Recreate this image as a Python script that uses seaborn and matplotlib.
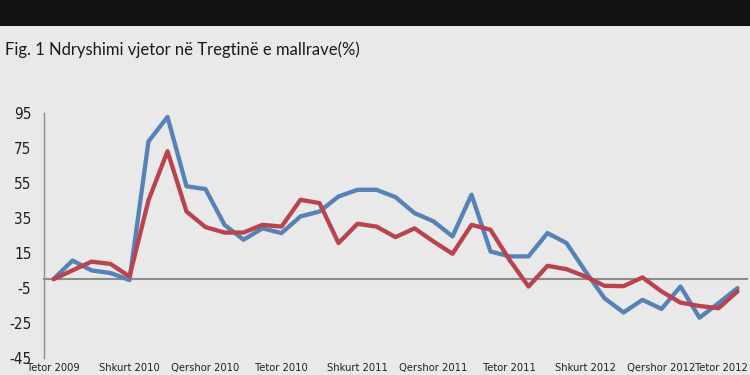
import numpy as np
import pandas as pd
import matplotlib
matplotlib.use("Agg")
import matplotlib.pyplot as plt
import matplotlib.transforms as mtransforms
from matplotlib.patches import Rectangle
import seaborn as sns

# ---- data ----
title = "Fig. 1 Ndryshimi vjetor në Tregtinë e mallrave(%)"
period_index = list(range(37))
blue_series = [0, 10.6, 5, 3.5, -0.5, 78.6, 92.6, 53, 51.4, 31, 22.5,
               29, 26.3, 35.8, 38.6, 47.2, 51, 51, 46.8, 37.7, 33, 24.4,
               48.2, 15.8, 13, 13, 26.3, 20.6, 4.4, -10.9, -19, -11.8,
               -17, -4.2, -22, -13.7, -5.1]
red_series = [0, 5, 10, 8.7, 1.5, 45, 73, 38.6, 29.7, 26.6, 26.6,
              31, 30, 45.3, 43.4, 20.6, 31.6, 30, 24, 29, 21.5, 14.5,
              31, 28.2, 11, -4.2, 7.6, 5.7, 1.5, -3.8, -4, 1,
              -7, -13.4, -15.3, -16.6, -7]
label_positions = [0, 4, 8, 12, 16, 20, 24, 28, 32, 36]
x_labels = ["Tetor 2009", "Shkurt 2010", "Qershor 2010", "Tetor 2010",
            "Shkurt 2011", "Qershor 2011", "Tetor 2011", "Shkurt 2012",
            "Qershor 2012", "Tetor 2012"]
y_ticks = [-45, -25, -5, 15, 35, 55, 75, 95]

BG = "#e9e9e9"
BLUE = "#5683b6"
RED = "#b9444f"
AXCOL = "#8c8c8c"

sns.set_style("white", rc={"axes.facecolor": BG, "figure.facecolor": BG})
plt.rcParams["font.family"] = ["DejaVu Sans"]

W, H = 750, 375
fig = plt.figure(figsize=(7.5, 3.75), dpi=100, facecolor=BG)

# black band at top
fig.patches.append(Rectangle((0, 1 - 26 / H), 1, 26 / H, transform=fig.transFigure,
                             facecolor="#111111", edgecolor="none", zorder=0))

fig.text(5 / W, 1 - 50 / H, title, fontsize=12, color="#1a1a1a",
         family=["Lato", "DejaVu Sans"], ha="left", va="center")

ax = fig.add_axes([44 / W, 1 - 358 / H, 703 / W, 245.3 / H])
ax.set_facecolor("none")

df = pd.DataFrame({"i": period_index, "blue": blue_series, "red": red_series})
long = df.melt(id_vars="i", var_name="series", value_name="value")
sns.lineplot(data=long, x="i", y="value", hue="series",
             palette={"blue": BLUE, "red": RED}, linewidth=3.1,
             legend=False, ax=ax)

ax.set_xlim(-0.5, 36.5)
ax.set_ylim(-45, 95)
ax.set_yticks(y_ticks)
ax.set_yticklabels([str(v) for v in y_ticks], fontsize=11, color="#1e1e1e",
                   fontstretch="condensed")
ax.set_xlabel("")
ax.set_ylabel("")

for s in ["top", "right"]:
    ax.spines[s].set_visible(False)
ax.spines["left"].set_color(AXCOL)
ax.spines["left"].set_linewidth(1.0)
ax.spines["bottom"].set_position(("data", 0))
ax.spines["bottom"].set_color(AXCOL)
ax.spines["bottom"].set_linewidth(1.5)
ax.spines["bottom"].set_zorder(1)

ax.set_xticks(np.arange(0.5, 36.6, 1.0))
ax.tick_params(axis="x", direction="out", length=4, width=1.0, color=AXCOL,
               labelbottom=False)
ax.tick_params(axis="y", direction="out", length=4, width=1.0, color=AXCOL, pad=5)

trans = mtransforms.blended_transform_factory(ax.transData, fig.transFigure)
last = len(x_labels) - 1
for k, (pos, lab) in enumerate(zip(label_positions, x_labels)):
    if k == last:
        ax.text(1 - 2 / W, 1 - 363 / H, lab, transform=fig.transFigure, fontsize=8,
                color="#222222", ha="right", va="top", clip_on=False,
                fontstretch="condensed")
    else:
        ax.text(pos, 1 - 363 / H, lab, transform=trans, fontsize=8,
                color="#222222", ha="center", va="top", clip_on=False,
                fontstretch="condensed")

fig.savefig("out.png", dpi=100, facecolor=BG)
